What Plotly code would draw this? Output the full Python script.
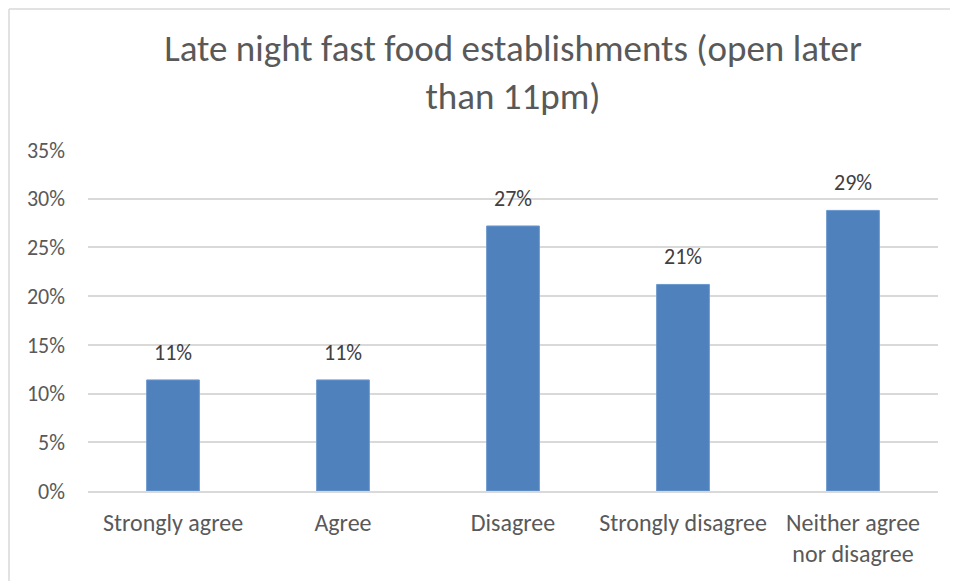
import plotly.graph_objects as go

# ============================================================
# Data
# ============================================================
categories = ["Strongly agree", "Agree", "Disagree", "Strongly disagree",
              "Neither agree<br>nor disagree"]
shares = [0.114, 0.114, 0.272, 0.212, 0.288]
labels = ["11%", "11%", "27%", "21%", "29%"]
y_ticks = [0, 0.05, 0.10, 0.15, 0.20, 0.25, 0.30, 0.35]
y_tick_text = ["0%", "5%", "10%", "15%", "20%", "25%", "30%", "35%"]

FONT = "Carlito, Calibri, Lato, sans-serif"
# page body has an 8px margin, so the figure is sized to the visible area
W, H = 950, 573
L, R, T, B = 80, 20, 142, 90

fig = go.Figure()
fig.add_trace(go.Bar(
    x=categories, y=shares,
    marker=dict(color="#4F81BD", line=dict(color="#6A97CF", width=1)),
))

# data labels, sitting a little higher than plotly's "outside" text
for cat, val, lab in zip(categories, shares, labels):
    fig.add_annotation(x=cat, y=val, text=lab, showarrow=False,
                       yanchor="bottom", yshift=12,
                       font=dict(size=22, color="#404040", family=FONT))

# chart border (left and top edges)
pw, ph = W - L - R, H - T - B
x0 = (1 - L) / pw
y0 = (H - B - 1) / ph
fig.add_shape(type="line", xref="paper", yref="paper",
              x0=x0, x1=x0, y0=y0, y1=-0.5,
              line=dict(color="#D9D9D9", width=1.5))
fig.add_shape(type="line", xref="paper", yref="paper",
              x0=x0, x1=1.2, y0=y0, y1=y0,
              line=dict(color="#D9D9D9", width=1.5))

fig.update_layout(
    width=W, height=H,
    margin=dict(l=L, r=R, t=T, b=B),
    paper_bgcolor="white", plot_bgcolor="white",
    bargap=0.69,
    showlegend=False,
    font=dict(family=FONT, color="#595959"),
    title=dict(
        text="Late night fast food establishments (open later<br>than 11pm)",
        x=0.5, xanchor="center", xref="paper",
        y=1 - 53 / H, yanchor="top", yref="container",
        font=dict(size=37, color="#595959", family=FONT),
    ),
    xaxis=dict(
        showgrid=False, showline=True, linecolor="#D9D9D9", linewidth=1.5,
        ticks="", ticklabelstandoff=9, automargin=False,
        tickfont=dict(size=24, color="#595959"),
    ),
    yaxis=dict(
        range=[0, 0.35], tickvals=y_ticks, ticktext=y_tick_text,
        showgrid=True, gridcolor="#D9D9D9", gridwidth=1.5,
        zeroline=False, showline=False, ticks="", automargin=False,
        ticklabelstandoff=22,
        tickfont=dict(size=22, color="#595959"),
    ),
)

fig.write_html("out.html")
